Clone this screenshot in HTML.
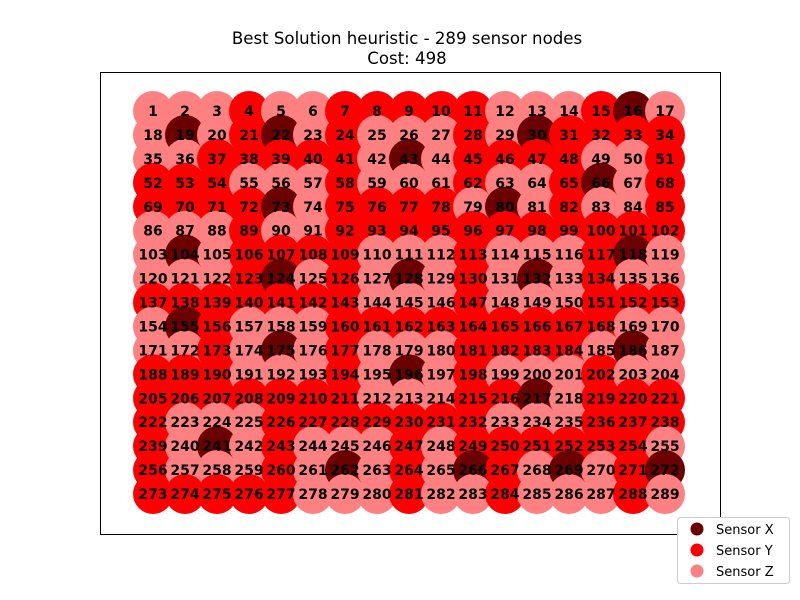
<!DOCTYPE html>
<html><head><meta charset="utf-8"><style>
body{margin:0;background:#fff;}
svg{display:block;font-family:"DejaVu Sans","Liberation Sans",sans-serif;}
</style></head><body>
<svg id="chart" width="800" height="600" viewBox="0 0 800 600">
<text x="407" y="44" font-size="16.6" text-anchor="middle">Best Solution heuristic - 289 sensor nodes</text>
<text x="407" y="64" font-size="16.6" text-anchor="middle">Cost: 498</text>
<rect x="100.5" y="72.5" width="620" height="462" fill="none" stroke="#000" stroke-width="1"/>
<g id="nodes"></g>
<g id="labels"></g>
<g>
<rect x="677.5" y="517.5" width="112" height="66" rx="3" fill="#fff" stroke="#ccc"/>
<g><circle cx="697" cy="529" r="6.5" fill="#6b0000"/><text x="716" y="534" font-size="13">Sensor X</text></g>
<g><circle cx="697" cy="550" r="6.5" fill="#ff0000"/><text x="716" y="555" font-size="13">Sensor Y</text></g>
<g><circle cx="697" cy="571" r="6.5" fill="#ff8080"/><text x="716" y="576" font-size="13">Sensor Z</text></g>
</g>
</svg>
<script>
const sensorTypes = [
"ZZZYZZYYYYYZZZYXZ",
"ZXZYXZYZZZYZXYYYY",
"ZZYYYYYZXZYYYYZZY",
"YYYZZZYZZZYZZYXZY",
"YYYYXZYYYYZXZYZZY",
"ZZZYZZYYYYYYYYYYY",
"ZXZYYYYZZZYZZZYXZ",
"ZZZYXZYZXZYZXZYZZ",
"YYYYYYYZZZYZZZYYY",
"ZXYZZZYYYYYYYYYZZ",
"ZZYZXZYZZZYYYYZXZ",
"YYYZZZYZXZYZZZYZZ",
"YYYYYYYZZZYYXZYYY",
"YZZZYYYYYYYZZZYYY",
"YZXZYZZZYZYYYYYYZ",
"YZZZYZXZYZXYZXZYX",
"YYYYYZZZYZZYZZZYZ"
];
const gridCols = 17;
const gridRows = 17;
const colorMap = {X:"#6b0000", Y:"#ff0000", Z:"#ff8080"};
const xScale = c => 153 + c * 32;
const yScale = r => 111 + r * (383 / 16);
const ns = "http://www.w3.org/2000/svg";
const gN = document.getElementById('nodes');
const gL = document.getElementById('labels');
for (let r = 0; r < gridRows; r++) {
  for (let c = 0; c < gridCols; c++) {
    const id = r * gridCols + c + 1;
    const t = sensorTypes[r][c];
    const circ = document.createElementNS(ns, 'circle');
    circ.setAttribute('cx', xScale(c));
    circ.setAttribute('cy', yScale(r));
    circ.setAttribute('r', 20);
    circ.setAttribute('fill', colorMap[t]);
    
    
    gN.appendChild(circ);
    const tx = document.createElementNS(ns, 'text');
    tx.setAttribute('x', xScale(c));
    tx.setAttribute('y', yScale(r) + 5);
    tx.setAttribute('font-size', '14');
    tx.setAttribute('font-weight', 'bold');
    tx.setAttribute('text-anchor', 'middle');
    tx.textContent = id;
    
    
    gL.appendChild(tx);
  }
}
</script>
</body></html>
